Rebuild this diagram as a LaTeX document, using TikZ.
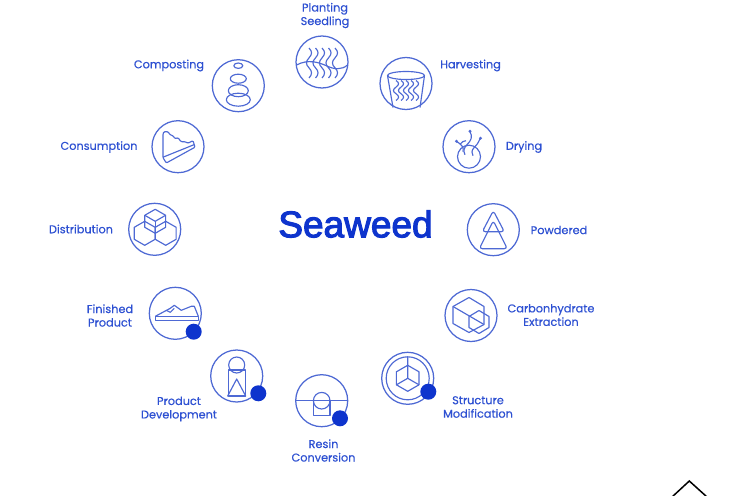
\documentclass[tikz,border=0pt]{standalone}
\usepackage{fontspec}
\setmainfont{Poppins}[FakeBold=0.3]
\newfontfamily\titlefont[FakeBold=3]{Liberation Sans}
\definecolor{line}{RGB}{78,105,212}
\definecolor{ink}{RGB}{45,80,210}
\definecolor{deep}{RGB}{14,52,205}
\tikzset{
 ring/.style={circle,draw=line,line width=1.25pt,minimum size=52pt,inner sep=0pt,outer sep=0pt},
 dot/.style={circle,fill=deep,minimum size=16pt,inner sep=0pt},
 lab/.style={text=ink,font=\fontsize{11.3}{13.5}\selectfont,align=center,inner sep=0pt},
 ico/.style={draw=line,line width=1.15pt,line join=round},
}
\newcommand{\wig}[3]{% x, y0, y1
 \draw[ico] (#1,#2) .. controls ({#1+3.4},{#2+(#3-#2)*0.12}) and ({#1+3.4},{#2+(#3-#2)*0.2}) .. ({#1},{#2+(#3-#2)*0.33}) .. controls ({#1-3.4},{#2+(#3-#2)*0.45}) and ({#1-3.4},{#2+(#3-#2)*0.55}) .. ({#1},{#2+(#3-#2)*0.66}) .. controls ({#1+3.4},{#2+(#3-#2)*0.78}) and ({#1+3.4},{#2+(#3-#2)*0.88}) .. ({#1},#3);}
\newcommand{\hexa}[3]{% cx, cy, r
 \draw[ico] ({#1},{#2-#3}) -- ({#1+.87*#3},{#2-.5*#3}) -- ({#1+.87*#3},{#2+.5*#3}) -- ({#1},{#2+#3}) -- ({#1-.87*#3},{#2+.5*#3}) -- ({#1-.87*#3},{#2-.5*#3}) -- cycle;}
\begin{document}
\begin{tikzpicture}[x=1pt,y=-1pt]
\useasboundingbox (0,0) rectangle (730,495);
\fill[white] (0,0) rectangle (730,495);
% rings
\node[ring] (plant) at (322,62) {};
\node[ring] (harv) at (406,83.5) {};
\node[ring] (dry) at (469,146.7) {};
\node[ring] (powd) at (493.3,229.7) {};
\node[ring] (carb) at (471,315.5) {};
\node[ring] (stru) at (407.7,378.3) {};
\node[ring] (resin) at (321.7,400.7) {};
\node[ring] (prod) at (236.7,376) {};
\node[ring] (fini) at (175.3,313.3) {};
\node[ring] (dist) at (154.7,229.3) {};
\node[ring] (cons) at (178,146.7) {};
\node[ring] (comp) at (238.3,85.7) {};
% planting
\begin{scope}[shift={(322,62)}]
\foreach \i in {-13,-6.5,0,6.5,13} {\wig{\i}{-14}{16}}
\draw[ico] (-25.5,3) .. controls (-14,-3) and (-4,0) .. (5,4) .. controls (12,7.5) and (20,8) .. (25.5,3);
\end{scope}
% harvesting
\begin{scope}[shift={(406,83.5)}]
\draw[ico] (0,-8) ellipse (18.5 and 4);
\draw[ico] (-18.5,-8) -- (-13,24); \draw[ico] (18.5,-8) -- (14,24);
\foreach \i in {-10,-5,0,5,10} {\wig{\i}{-3}{17}}
\end{scope}
% drying
\begin{scope}[shift={(469,146.7)}]
\draw[ico] (0,10) circle (11.5);
\draw[ico] (-12,-5) .. controls (-7,-2) and (-5,1) .. (-6,5);
\draw[ico] (1,-15) .. controls (4,-10) and (2,-6) .. (-2,-2) .. controls (-5,1) and (-6,4) .. (-4,8);
\draw[ico] (11,-8) .. controls (9,-3) and (7,-1) .. (5,1) .. controls (2,4) and (3,7) .. (4,9);
\draw[ico] (-9,-2) .. controls (-7,-5) and (-5,-6) .. (-3,-6);
\fill[line] (-12.5,-5.5) circle (1.6) (1,-15.5) circle (1.6) (11.5,-8.5) circle (1.6);
\end{scope}
% powdered
\begin{scope}[shift={(493.3,229.7)}]
\draw[ico,rounded corners=3pt] (0,-19) -- (11,2) -- (-11,2) -- cycle;
\draw[ico,rounded corners=3pt] (0,-9) -- (14,19) -- (-14,19) -- cycle;
\end{scope}
% carbon
\begin{scope}[shift={(471,315.5)}]
\draw[ico] (-2,-18) -- (13,-9) -- (13,9) -- (-2,17) -- (-18,8) -- (-18,-9) -- cycle;
\draw[ico] (8,-5) -- (18,1) -- (18,12) -- (8,18) -- (-2,12) -- (-2,1) -- cycle;
\draw[ico] (-18,-9) -- (13,9);
\end{scope}
% structure
\begin{scope}[shift={(407.7,378.3)}]
\draw[ico] (0,0) circle (21.5);
\hexa{0}{0}{13}
\draw[ico] (0,-21.5) -- (0,0) -- (-11.3,6.5); \draw[ico] (0,0) -- (11.3,6.5);
\end{scope}
% resin
\begin{scope}[shift={(321.7,400.7)}]
\draw[ico] (-26,0) -- (26,0);
\draw[ico] (0,0) circle (8.3);
\draw[ico] (-8.3,0) -- (-8.3,15) -- (8.3,15) -- (8.3,0);
\end{scope}
% product
\begin{scope}[shift={(236.7,376)}]
\draw[ico] (0,-11) circle (8);
\draw[ico] (-8.5,-6) rectangle (8.5,20);
\draw[ico] (0,3) -- (9,20) -- (-9,20) -- cycle;
\end{scope}
% finished
\begin{scope}[shift={(175.3,313.3)}]
\draw[ico] (-20,3) rectangle (23,7);
\draw[ico] (-20,3) -- (-5,-5) -- (-1,-8) -- (6,-3) -- (16,-7) -- (19,-7) -- (23,3);
\draw[ico] (-9,-3) -- (-5,-1) -- (-1,-5);
\end{scope}
% distribution
\begin{scope}[shift={(155.2,229.3)}]
\hexa{-10.5}{4}{12}
\hexa{10.5}{4}{12}
\hexa{0}{-8}{12}
\draw[ico] (-10.4,-14) -- (0,-8) -- (10.4,-14);
\draw[ico] (0,-8) -- (0,4);
\end{scope}
% consumption
\begin{scope}[shift={(178,146.7)}]
\draw[ico,rounded corners=1pt] (-15,-13) -- (-14,-15) -- (-10,-15) -- (-8,-12) -- (-5,-11) -- (-3,-8) -- (0,-9) -- (3,-5) -- (7,-5) -- (10,-3.5) -- (15,-6) -- (17,0.5) -- (-11.7,16.3) -- (-15,11) -- cycle;
\draw[ico] (-15,10.5) -- (16,-2);
\end{scope}
% composting
\begin{scope}[shift={(238.3,85.7)}]
\draw[ico] (0,-20) ellipse (4.5 and 2.7);
\draw[ico] (0,-7) ellipse (8 and 4.5);
\draw[ico] (0,5) ellipse (10 and 6);
\draw[ico] (0,14) ellipse (12 and 6.5);
\end{scope}
% dots
\node[dot] (d1) at (193.7,331.7) {};
\node[dot] (d2) at (258.3,393.3) {};
\node[dot] (d3) at (340,418.3) {};
\node[dot] (d4) at (428.3,391.7) {};
% labels
\node[text=deep,font=\titlefont\fontsize{37}{40}\selectfont,inner sep=0pt] (title) at (355.5,224) {Seaweed};
\node[lab] (l1) at (325,15.5) {Planting\\Seedling};
\node[lab] (l2) at (470.5,65.5) {Harvesting};
\node[lab] (l3) at (524,147) {Drying};
\node[lab] (l4) at (559,230) {Powdered};
\node[lab] (l5) at (551,315) {Carbonhydrate\\Extraction};
\node[lab] (l6) at (478,407) {Structure\\Modification};
\node[lab] (l7) at (323.5,450.5) {Resin\\Conversion};
\node[lab] (l8) at (179,409) {Product\\Development};
\node[lab] (l9) at (110,315.5) {Finished\\Product};
\node[lab] (l10) at (81,229) {Distribution};
\node[lab] (l11) at (99,147) {Consumption};
\node[lab] (l12) at (169,65.5) {Composting};
% corner mark
\coordinate (ca) at (672,497); \coordinate (cb) at (689.3,481); \coordinate (cc) at (707,497);
\draw[black,line width=1.5pt] (ca) -- (cb) -- (cc);
\end{tikzpicture}
\end{document}
